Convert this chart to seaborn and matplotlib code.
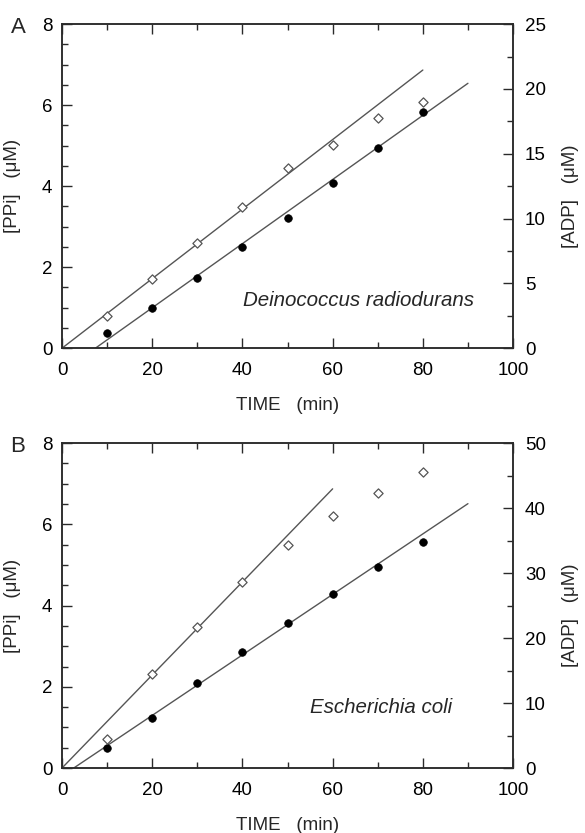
import numpy as np
import matplotlib
matplotlib.use('Agg')
import matplotlib.pyplot as plt
import seaborn as sns
from matplotlib.ticker import MultipleLocator

sns.set_theme(style='ticks', context='notebook')
plt.rcParams['font.family'] = ['Liberation Sans', 'DejaVu Sans']

#~~~~~~~~~~~~~~~~~~~~~~~~~~~~~~~~~~~~~~~~~~#
### Data.
#~~~~~~~~~~~~~~~~~~~~~~~~~~~~~~~~~~~~~~~~~~#

time = [10, 20, 30, 40, 50, 60, 70, 80]

## Panel A: Deinococcus radiodurans.
ppi_a = [0.37, 1.00, 1.73, 2.51, 3.21, 4.08, 4.94, 5.83]
adp_a = [2.5, 5.3, 8.1, 10.9, 13.9, 15.7, 17.75, 19.0]
ppi_fit_a_x = [7.4, 90]
ppi_fit_a_y = [0.0, 6.54]
adp_fit_a_x = [0, 80]
adp_fit_a_y = [0.0, 21.46]

## Panel B: Escherichia coli.
ppi_b = [0.50, 1.24, 2.10, 2.86, 3.58, 4.29, 4.94, 5.56]
adp_b = [4.5, 14.4, 21.75, 28.6, 34.3, 38.8, 42.3, 45.6]
ppi_fit_b_x = [2.6, 90]
ppi_fit_b_y = [0.0, 6.51]
adp_fit_b_x = [0, 60]
adp_fit_b_y = [0.0, 42.97]

## Panel settings.
panels = [
    dict(letter='A', species='Deinococcus radiodurans', ppi=ppi_a, adp=adp_a,
         ppi_fx=ppi_fit_a_x, ppi_fy=ppi_fit_a_y, adp_fx=adp_fit_a_x, adp_fy=adp_fit_a_y,
         adp_max=25, adp_major=5, species_xy=(65.7, 1.18)),
    dict(letter='B', species='Escherichia coli', ppi=ppi_b, adp=adp_b,
         ppi_fx=ppi_fit_b_x, ppi_fy=ppi_fit_b_y, adp_fx=adp_fit_b_x, adp_fy=adp_fit_b_y,
         adp_max=50, adp_major=10, species_xy=(70.7, 1.5)),
]

## Styles.
axcolor = '#2a2a2a'
linecolor = '#555555'
fs = 13.5

#~~~~~~~~~~~~~~~~~~~~~~~~~~~~~~~~~~~~~~~~~~#
### Draw.
#~~~~~~~~~~~~~~~~~~~~~~~~~~~~~~~~~~~~~~~~~~#

fig = plt.figure(figsize=(5.85, 8.33), dpi=100)
boxes = [[0.106, 0.582, 0.771, 0.389], [0.106, 0.078, 0.771, 0.390]]

for box, p in zip(boxes, panels):

    ax = fig.add_axes(box)
    ax2 = ax.twinx()

    ## Fit lines.
    sns.lineplot(x=p['ppi_fx'], y=p['ppi_fy'], color=linecolor, lw=1, ax=ax)
    sns.lineplot(x=p['adp_fx'], y=p['adp_fy'], color=linecolor, lw=1, ax=ax2)

    ## Points.
    sns.scatterplot(x=time, y=p['ppi'], color='black', marker='o', s=30,
                    edgecolor='black', linewidth=0.5, zorder=3, ax=ax)
    sns.scatterplot(x=time, y=p['adp'], marker='D', s=22, facecolor='white',
                    edgecolor='#555555', linewidth=0.9, zorder=3, ax=ax2)

    ## Axes limits and ticks.
    ax.set(xlim=(0, 100), ylim=(0, 8))
    ax2.set(ylim=(0, p['adp_max']))
    ax.xaxis.set_major_locator(MultipleLocator(20))
    ax.xaxis.set_minor_locator(MultipleLocator(10))
    ax.yaxis.set_major_locator(MultipleLocator(2))
    ax.yaxis.set_minor_locator(MultipleLocator(0.5))
    ax2.yaxis.set_major_locator(MultipleLocator(p['adp_major']))
    ax2.yaxis.set_minor_locator(MultipleLocator(p['adp_major'] / 2))

    for a in (ax, ax2):
        a.tick_params(which='both', direction='in', top=True, color=axcolor,
                      labelcolor='black', labelsize=fs, width=1)
        a.tick_params(which='major', length=7)
        a.tick_params(which='minor', length=4.5)
        for s in a.spines.values():
            s.set(color=axcolor, linewidth=1.1, visible=True)
    ax.tick_params(which='both', right=False)
    ax.tick_params(axis='x', which='major', pad=10)
    ax.tick_params(axis='y', which='major', pad=7)
    ax2.tick_params(which='both', left=False, right=True, top=False)
    ax2.tick_params(axis='y', which='major', pad=8.5)

    ## Labels.
    ax.set_xlabel('TIME   (min)', fontsize=fs, labelpad=13)
    ax.set_ylabel('[PPi]   (\u03bcM)', fontsize=fs)
    ax.yaxis.set_label_coords(-0.091, 0.5)
    ax2.set_ylabel('[ADP]   (\u03bcM)', fontsize=fs)
    ax2.yaxis.set_label_coords(1.109, 0.47)

    ## Species annotation.
    ax.text(*p['species_xy'], p['species'], style='italic', fontsize=14.8,
            ha='center', va='center')

    ## Panel letter.
    ax.text(-0.0976, 0.99, p['letter'], transform=ax.transAxes, fontsize=16,
            ha='center', va='center')

plt.savefig('out.png', dpi=100)
